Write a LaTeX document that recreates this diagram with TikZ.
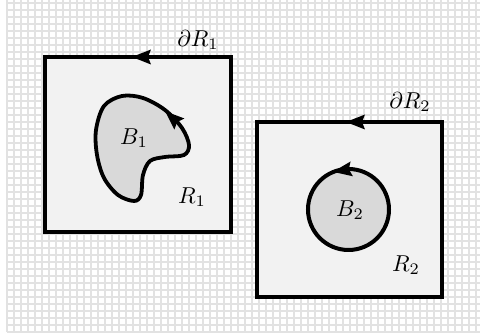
\documentclass[tikz,border=0pt]{standalone}
\usetikzlibrary{arrows.meta,calc}
\definecolor{gridc}{RGB}{226,226,226}
\definecolor{boxfill}{RGB}{242,242,242}
\definecolor{blobfill}{RGB}{217,217,217}
\tikzset{
  region/.style={draw=black, line width=4pt, fill=boxfill},
  hole/.style={draw=black, line width=3.8pt, fill=blobfill},
  lab/.style={scale=2.3, transform shape, inner sep=0pt}
}
% filled arrowhead: tip point, direction angle
\newcommand\orienttip[2]{%
  \fill[black, shift={(#1)}, rotate=#2] (1,0) -- (-18,7.5) -- (-15,0) -- (-18,-7.5) -- cycle;}
\begin{document}
\begin{tikzpicture}[x=1pt,y=1pt]
\useasboundingbox (0,0) rectangle (480,336);
\fill[white] (0,0) rectangle (480,336);
% grid
\foreach \i in {0,...,67} {
  \draw[gridc, line width=1.3pt] ({7+7*\i},4) -- ({7+7*\i},336);
}
\foreach \j in {0,...,47} {
  \draw[gridc, line width=1.3pt] (7,{333-7*\j}) -- (480,{333-7*\j});
}
% region R1
\draw[region] (231,279) -- (45,279) -- (45,104) -- (231,104) -- cycle;
\coordinate (t1) at (133,279);
\orienttip{t1}{180}
% blob B1
\draw[hole] plot[smooth cycle, tension=0.55] coordinates {
 (189,191) (182,208) (165,226) (143,238) (122,240) (104,230) (96,206)
 (97,181) (104,158) (118,141) (134,135) (141,141) (143,161) (150,175)
 (165,179) (184,181)};
\coordinate (tb1) at (166,224);
\orienttip{tb1}{138}
% region R2
\draw[region] (442,214) -- (257,214) -- (257,39) -- (442,39) -- cycle;
\coordinate (t2) at (347,214);
\orienttip{t2}{180}
% circle B2
\coordinate (c2) at (348.5,126.5);
\draw[hole, line width=4pt] (c2) circle[radius=40.5];
\coordinate (tc2) at ($(c2)+(111:40.5)$);
\orienttip{tc2}{189}
% labels
\node[lab] (dR1) at (198,296) {$\partial R_1$};
\node[lab] (dR2) at (410,234) {$\partial R_2$};
\node[lab] (B1) at (134,198) {$B_1$};
\node[lab] (R1) at (192,139) {$R_1$};
\node[lab] (B2) at (350,126) {$B_2$};
\node[lab] (R2) at (406,71) {$R_2$};
\end{tikzpicture}
\end{document}
